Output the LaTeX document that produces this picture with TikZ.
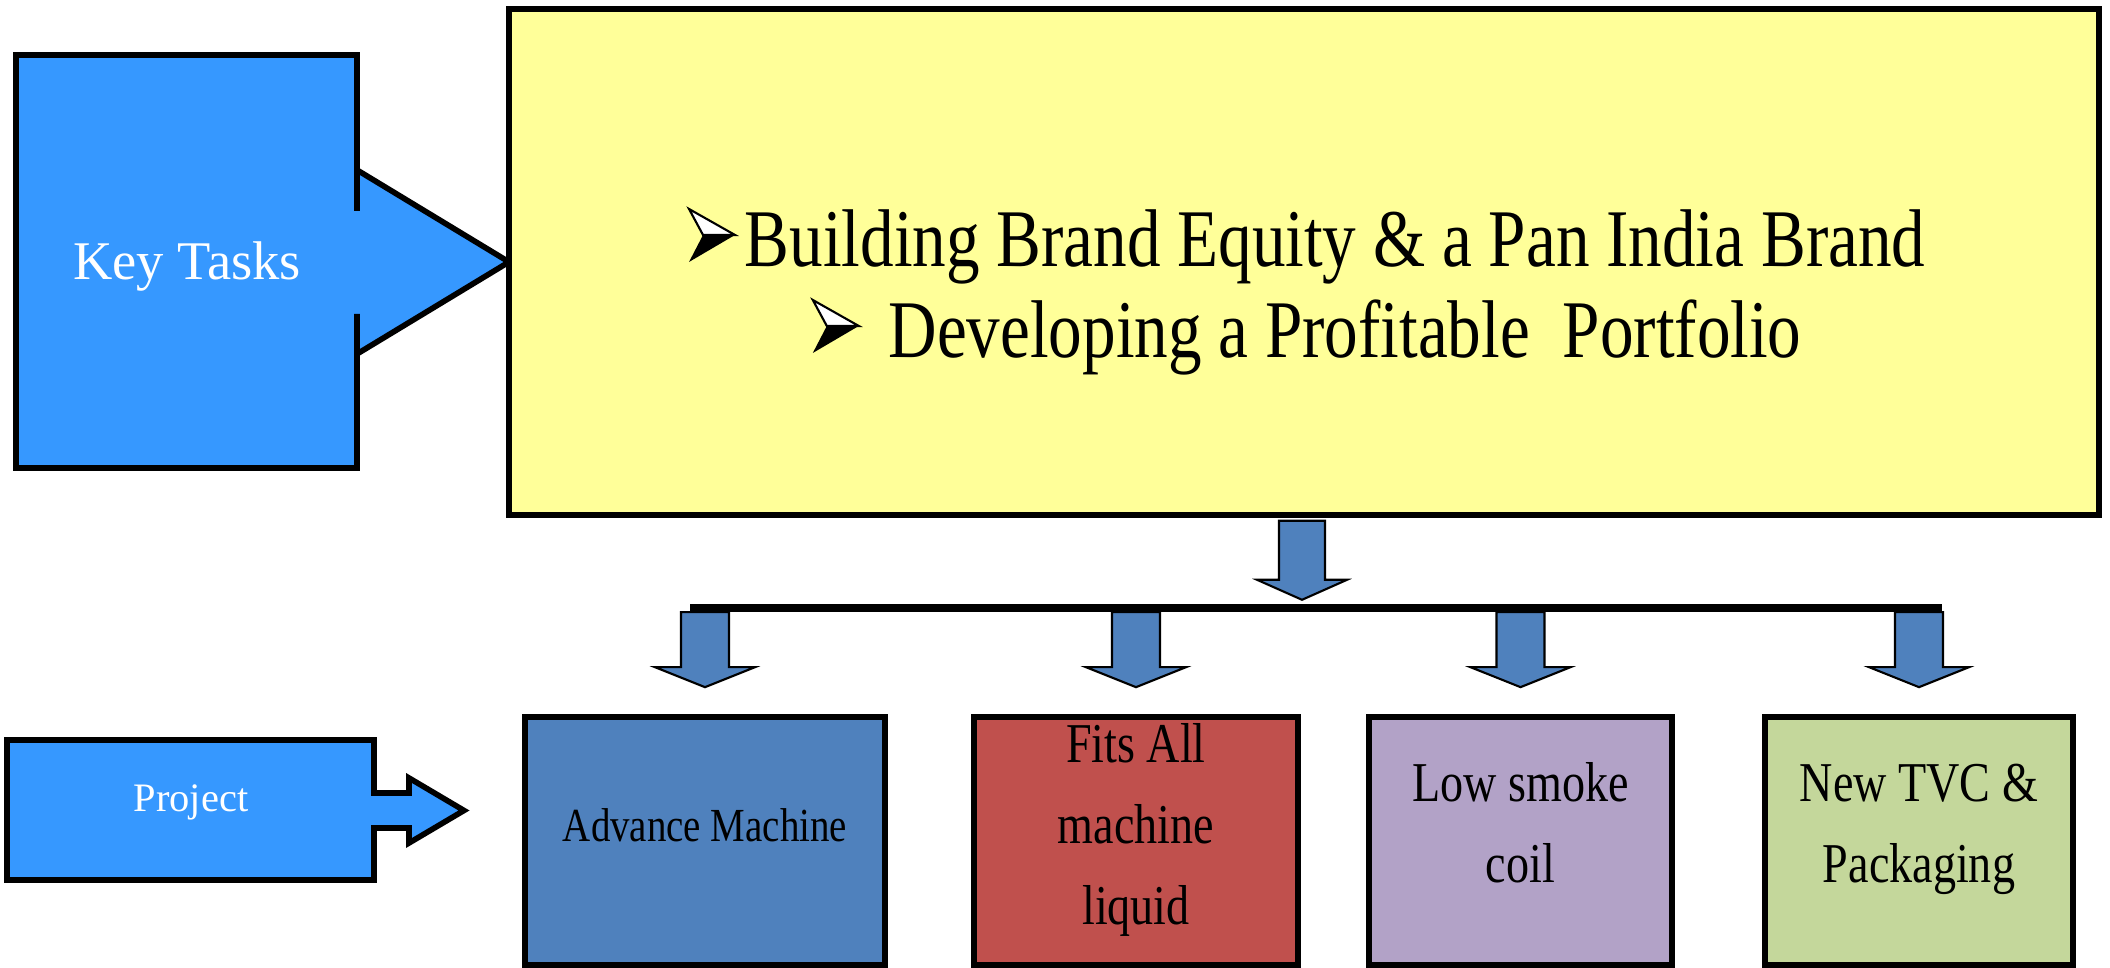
\documentclass[tikz,border=0pt]{standalone}
\usepackage{fontspec}
\setmainfont{Liberation Serif}
\newfontfamily\narrowfont[FakeStretch=0.82]{Liberation Serif}
\usepackage{tikz}
\usetikzlibrary{positioning, calc}

\definecolor{taskblue}{RGB}{54,152,255}
\definecolor{goalyellow}{RGB}{255,255,153}
\definecolor{arrowblue}{RGB}{79,129,189}
\definecolor{liquidred}{RGB}{192,80,77}
\definecolor{coillilac}{RGB}{178,162,199}
\definecolor{packgreen}{RGB}{196,215,155}

\tikzstyle{callout} = [draw=black, line width=1.6pt, fill=taskblue, line join=miter]
\tikzstyle{projbox} = [rectangle, draw=black, line width=1.6pt, minimum height=2.48cm]
\tikzstyle{boxtext} = [align=center, font=\narrowfont\fontsize{16}{23}\selectfont]
\tikzstyle{goaltext} = [inner sep=0pt, font=\narrowfont\fontsize{23.3}{26}\selectfont]
\tikzstyle{blockarrow} = [draw=black, line width=0.6pt, fill=arrowblue, line join=miter]
\tikzset{arrowtick/.pic={
    \filldraw [fill=white, line width=0.6pt, line join=miter] (0,0.53) -- (0.46,0.27) -- (0.14,0.27) -- cycle;
    \fill (0.14,0.27) -- (0.46,0.27) -- (0,0) -- cycle;
}}

\begin{document}
\begin{tikzpicture}
    \useasboundingbox (0,0) rectangle (21.1,9.68);

    % Key tasks
    \draw [callout] (0.16,9.13) -- (3.57,9.13) -- (3.57,7.57) -- (3.57,7.98) -- (5.09,7.06)
        -- (3.57,6.14) -- (3.57,6.54) -- (3.57,5.00) -- (0.16,5.00) -- cycle;
    \node (keytasks) at (1.87,7.01) [text=white, font=\fontsize{15.5}{18}\selectfont] {Key Tasks};

    % Goals
    \node (goalbox) at (13.04,7.06) [rectangle, draw, line width=1.6pt, fill=goalyellow, minimum width=15.9cm, minimum height=5.06cm] {};
    \node (brand) at (13.35,7.01) [anchor=base, goaltext] {Building Brand Equity \& a Pan India Brand};
    \pic at ($(brand.base west)+(-0.55,0.05)$) {arrowtick};
    \node (portfolio) at (13.45,6.10) [anchor=base, goaltext] {Developing a Profitable\hspace{0.4em}Portfolio};
    \pic at ($(portfolio.base west)+(-0.75,0.05)$) {arrowtick};

    % Project
    \draw [callout] (0.07,2.28) -- (3.74,2.28) -- (3.74,1.75) -- (4.09,1.75) -- (4.09,1.90) -- (4.64,1.575)
        -- (4.09,1.25) -- (4.09,1.40) -- (3.74,1.40) -- (3.74,0.88) -- (0.07,0.88) -- cycle;
    \node (project) at (1.91,1.66) [text=white, font=\fontsize{11.5}{14}\selectfont] {Project};

    % Projects
    \node (machine) at (7.05,1.27) [projbox, fill=arrowblue, minimum width=3.6cm] {};
    \node (liquid) at (11.36,1.27) [projbox, fill=liquidred, minimum width=3.24cm] {};
    \node (coil) at (15.205,1.27) [projbox, fill=coillilac, minimum width=3.03cm] {};
    \node (pack) at (19.19,1.27) [projbox, fill=packgreen, minimum width=3.08cm] {};
    \node (machinetext) at (7.05,1.425) [boxtext, font=\narrowfont\fontsize{13.5}{16}\selectfont] {Advance Machine};
    \node (liquidtext) at (11.36,1.38) [boxtext] {Fits All\\machine\\liquid};
    \node (coiltext) at (15.205,1.45) [boxtext] {Low smoke\\coil};
    \node (packtext) at (19.19,1.39) [boxtext] {New TVC \&\\Packaging};

    % Arrows
    \draw [blockarrow] ($(goalbox.south)+(-0.25,-0.03)$) -- ++(0.46,0) -- ++(0,-0.59) -- ++(0.22,0)
        -- ++(-0.45,-0.20) -- ++(-0.45,0.20) -- ++(0.22,0) -- cycle;
    \foreach \b in {machine, liquid, coil, pack}
        \draw [blockarrow] ($(\b.north)+(-0.24,1.02)$) -- ++(0.48,0) -- ++(0,-0.55) -- ++(0.26,0)
            -- ++(-0.50,-0.20) -- ++(-0.50,0.20) -- ++(0.26,0) -- cycle;

    % Bar
    \coordinate (barleft) at (6.90,3.60);
    \coordinate (barright) at (19.42,3.60);
    \draw [line width=2.3pt] (barleft) -- (barright);
\end{tikzpicture}
\end{document}
